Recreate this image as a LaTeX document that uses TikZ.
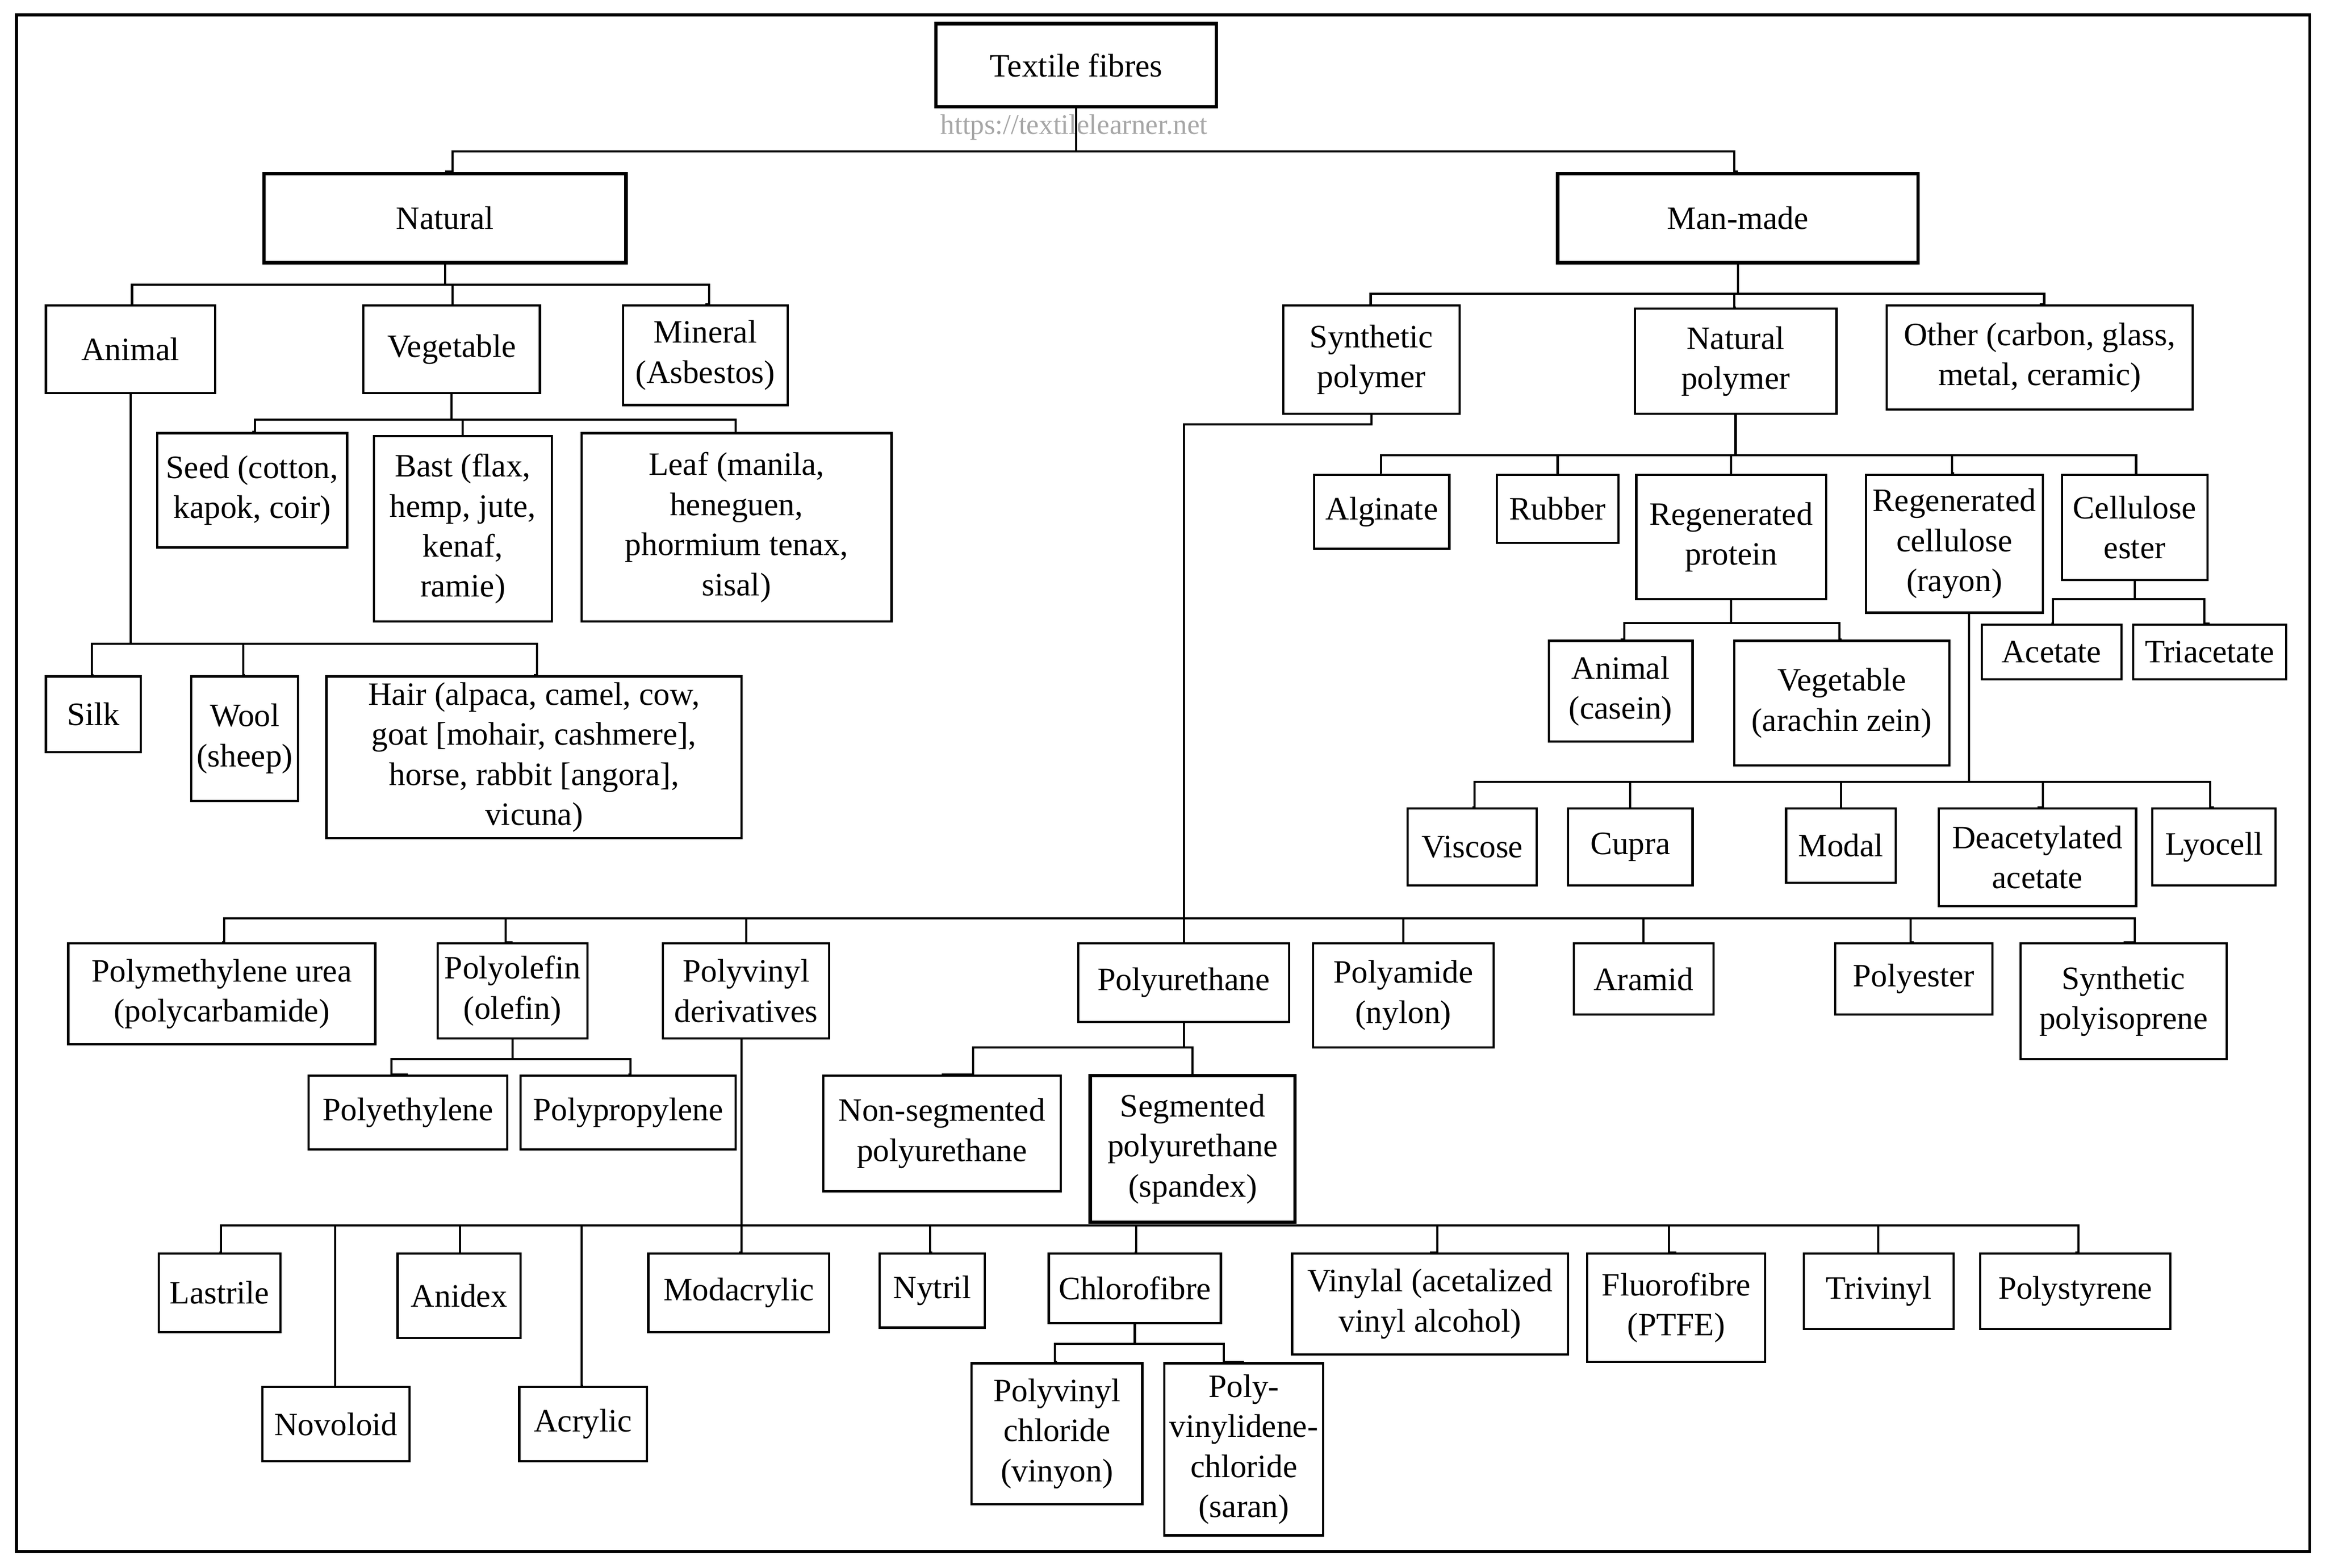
\documentclass[tikz,border=0pt]{standalone}
\usepackage{fontspec}
\setmainfont{Liberation Serif}
\begin{document}
\begin{tikzpicture}[x=1pt,y=-1pt,line width=1.5pt,
  bx/.style={draw,inner sep=1pt,align=center,font=\fontsize{22}{27}\selectfont},
  thk/.style={line width=2.3pt}]
\useasboundingbox (0,0) rectangle (1568,1057);
\draw[line width=2pt] (11,10) rectangle (1557,1046);
\newcommand\bx[7][]{\node[bx,#1,minimum width={#5-#3},minimum height={#6-#4}] (#2) at ({(#3+#5)/2},{(#4+#6)/2}) {#7};}
\newcommand\lk[4]{\draw (#1) |- (#3,#2) |- (#4.north);}
% nodes
\bx[thk]{tf}{631}{16}{820}{72}{Textile fibres}
\node[text=black!35,font=\fontsize{19}{20}\selectfont] (wm) at (724,86) {https://textilelearner.net};
\bx[thk]{nat}{178}{117}{422}{177}{Natural}
\bx[thk]{mm}{1050}{117}{1293}{177}{Man-made}
\bx{ani}{31}{206}{145}{265}{Animal}
\bx{veg}{245}{206}{364}{265}{Vegetable}
\bx{min}{420}{206}{531}{273}{Mineral\\(Asbestos)}
\bx{seed}{106}{292}{234}{369}{Seed (cotton,\\kapok, coir)}
\bx{bast}{252}{294}{372}{419}{Bast (flax,\\hemp, jute,\\kenaf,\\ramie)}
\bx{leaf}{392}{292}{601}{419}{Leaf (manila,\\heneguen,\\phormium tenax,\\sisal)}
\bx{silk}{31}{456}{95}{507}{Silk}
\bx{wool}{129}{456}{201}{540}{Wool\\(sheep)}
\bx{hair}{220}{456}{500}{565}{Hair (alpaca, camel, cow,\\goat [mohair, cashmere],\\horse, rabbit [angora],\\vicuna)}
\bx{syn}{865}{206}{984}{279}{Synthetic\\polymer}
\bx{np}{1102}{208}{1238}{279}{Natural\\polymer}
\bx{oth}{1272}{206}{1478}{276}{Other (carbon, glass,\\metal, ceramic)}
\bx{alg}{886}{320}{977}{370}{Alginate}
\bx{rub}{1009}{320}{1091}{366}{Rubber}
\bx{rp}{1103}{320}{1231}{404}{Regenerated\\protein}
\bx{ray}{1258}{320}{1377}{413}{Regenerated\\cellulose\\(rayon)}
\bx{ce}{1390}{320}{1488}{391}{Cellulose\\ester}
\bx{ace}{1336}{421}{1430}{458}{Acetate}
\bx{tri}{1438}{421}{1541}{458}{Triacetate}
\bx{cas}{1044}{432}{1141}{500}{Animal\\(casein)}
\bx{zein}{1169}{432}{1314}{516}{Vegetable\\(arachin zein)}
\bx{vis}{949}{545}{1036}{597}{Viscose}
\bx{cup}{1057}{545}{1141}{597}{Cupra}
\bx{mod}{1204}{545}{1278}{595}{Modal}
\bx{dea}{1307}{545}{1440}{611}{Deacetylated\\acetate}
\bx{lyo}{1451}{545}{1534}{597}{Lyocell}
\bx{pmu}{46}{636}{253}{704}{Polymethylene urea\\(polycarbamide)}
\bx{pol}{295}{636}{396}{700}{Polyolefin\\(olefin)}
\bx{pvd}{447}{636}{559}{700}{Polyvinyl\\derivatives}
\bx{pu}{727}{636}{869}{689}{Polyurethane}
\bx{pa}{885}{636}{1007}{706}{Polyamide\\(nylon)}
\bx{ara}{1061}{636}{1155}{684}{Aramid}
\bx{pes}{1237}{636}{1343}{684}{Polyester}
\bx{spi}{1362}{636}{1501}{714}{Synthetic\\polyisoprene}
\bx{pe}{208}{725}{342}{775}{Polyethylene}
\bx{pp}{351}{725}{496}{775}{Polypropylene}
\bx{nsp}{555}{725}{715}{803}{Non-segmented\\polyurethane}
\bx[thk]{sp}{735}{725}{873}{824}{Segmented\\polyurethane\\(spandex)}
\bx{las}{107}{845}{189}{898}{Lastrile}
\bx{nov}{177}{935}{276}{985}{Novoloid}
\bx{anx}{268}{845}{351}{902}{Anidex}
\bx{acr}{350}{935}{436}{985}{Acrylic}
\bx{mac}{437}{845}{559}{898}{Modacrylic}
\bx{nyt}{593}{845}{664}{895}{Nytril}
\bx{chl}{707}{845}{823}{892}{Chlorofibre}
\bx{vin}{871}{845}{1057}{913}{Vinylal (acetalized\\vinyl alcohol)}
\bx{flu}{1070}{845}{1190}{918}{Fluorofibre\\(PTFE)}
\bx{triv}{1216}{845}{1317}{896}{Trivinyl}
\bx{pst}{1335}{845}{1463}{896}{Polystyrene}
\bx{pvc}{655}{919}{770}{1014}{Polyvinyl\\chloride\\(vinyon)}
\bx{pvdc}{785}{919}{892}{1035}{Poly-\\vinylidene-\\chloride\\(saran)}
% connectors
\lk{tf.south}{102}{305}{nat}
\lk{tf.south}{102}{1169}{mm}
\lk{nat.south}{192}{89}{ani}
\lk{nat.south}{192}{305}{veg}
\lk{nat.south}{192}{478}{min}
\lk{veg.south}{283}{172}{seed}
\lk{veg.south}{283}{312}{bast}
\lk{veg.south}{283}{496}{leaf}
\lk{ani.south}{434}{62}{silk}
\lk{ani.south}{434}{164}{wool}
\lk{ani.south}{434}{362}{hair}
\lk{mm.south}{198}{924}{syn}
\lk{mm.south}{198}{1169}{np}
\lk{mm.south}{198}{1378}{oth}
\lk{np.south}{307}{931}{alg}
\lk{np.south}{307}{1050}{rub}
\lk{np.south}{307}{1167}{rp}
\lk{np.south}{307}{1316}{ray}
\lk{np.south}{307}{1440}{ce}
\lk{ce.south}{404}{1384}{ace}
\lk{ce.south}{404}{1486}{tri}
\lk{rp.south}{420}{1095}{cas}
\lk{rp.south}{420}{1240}{zein}
\coordinate (rb) at ([xshift=10]ray.south);
\lk{rb}{527}{994}{vis}
\lk{rb}{527}{1099}{cup}
\lk{rb}{527}{1241}{mod}
\lk{rb}{527}{1377}{dea}
\lk{rb}{527}{1490}{lyo}
\coordinate (sb) at (798,286);
\draw (syn.south) |- (sb) -- (pu.north);
\lk{sb}{619}{151}{pmu}
\lk{sb}{619}{341}{pol}
\lk{sb}{619}{503}{pvd}
\lk{sb}{619}{946}{pa}
\lk{sb}{619}{1108}{ara}
\lk{sb}{619}{1288}{pes}
\lk{sb}{619}{1439}{spi}
\lk{pol.south}{714}{264}{pe}
\lk{pol.south}{714}{425}{pp}
\lk{pu.south}{706}{656}{nsp}
\lk{pu.south}{706}{804}{sp}
\coordinate (pb) at ([xshift=-3]pvd.south);
\lk{pb}{826}{149}{las}
\lk{pb}{826}{226}{nov}
\lk{pb}{826}{310}{anx}
\lk{pb}{826}{392}{acr}
\lk{pb}{826}{500}{mac}
\lk{pb}{826}{627}{nyt}
\lk{pb}{826}{766}{chl}
\lk{pb}{826}{969}{vin}
\lk{pb}{826}{1125}{flu}
\lk{pb}{826}{1266}{triv}
\lk{pb}{826}{1401}{pst}
\lk{chl.south}{906}{711}{pvc}
\lk{chl.south}{906}{825}{pvdc}
\end{tikzpicture}
\end{document}
